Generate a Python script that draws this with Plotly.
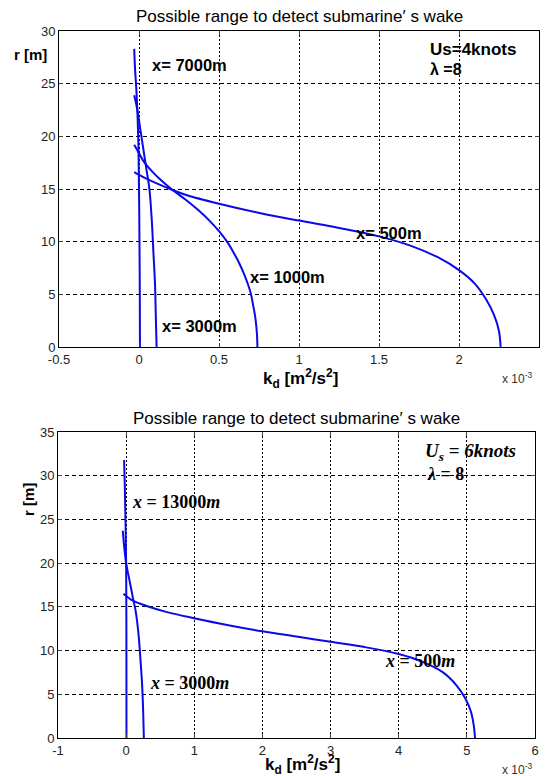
import plotly.graph_objects as go

W, H = 548, 776

# ---------------- data (kd in units of 1e-3 m^2/s^2, r in m) ----------------
# Upper panel: Us = 4 knots, lambda = 8
kd_top_500 = [2.26, 2.25, 2.22, 2.17, 2.10, 2.00, 1.87, 1.70, 1.50, 1.25, 1.00, 0.76, 0.50, 0.30, 0.21, 0.10, 0.03, -0.03]
r_top_500 = [0.0, 1.5, 3.0, 4.5, 6.0, 7.3, 8.5, 9.6, 10.5, 11.3, 12.0, 12.7, 13.6, 14.4, 14.9, 15.6, 16.1, 16.6]

kd_top_1000 = [0.74, 0.738, 0.733, 0.725, 0.713, 0.70, 0.68, 0.655, 0.625, 0.59, 0.55, 0.50, 0.44, 0.37, 0.29, 0.21, 0.14, 0.08, 0.03, 0.0, -0.03]
r_top_1000 = [0.0, 1.0, 2.0, 3.0, 4.0, 5.0, 6.0, 7.0, 8.0, 9.0, 10.0, 11.0, 12.0, 13.0, 14.0, 14.9, 15.8, 16.7, 17.6, 18.4, 19.2]

kd_top_3000 = [0.11, 0.105, 0.10, 0.09, 0.08, 0.065, 0.045, 0.03, 0.01, -0.01, -0.03]
r_top_3000 = [0.0, 3.0, 6.0, 9.0, 12.0, 15.0, 17.0, 18.5, 20.5, 22.5, 23.9]

kd_top_7000 = [0.006, 0.005, 0.003, 0.0, -0.005, -0.015, -0.025, -0.03]
r_top_7000 = [0.0, 5.0, 10.0, 15.0, 20.0, 24.0, 26.5, 28.3]

# Lower panel: Us = 6 knots, lambda = 8
kd_bot_500 = [5.12, 5.10, 5.06, 4.98, 4.85, 4.65, 4.35, 4.00, 3.50, 3.00, 2.50, 2.00, 1.50, 1.00, 0.60, 0.30, 0.10, -0.04]
r_bot_500 = [0.0, 1.5, 3.0, 4.5, 6.0, 7.5, 8.7, 9.6, 10.4, 11.0, 11.6, 12.2, 12.9, 13.7, 14.4, 15.1, 15.7, 16.5]

kd_bot_3000 = [0.26, 0.25, 0.235, 0.21, 0.18, 0.14, 0.10, 0.05, 0.0, -0.03, -0.05]
r_bot_3000 = [0.0, 3.0, 6.0, 9.0, 12.0, 14.5, 16.0, 18.0, 20.0, 22.0, 23.7]

kd_bot_13000 = [0.005, 0.004, 0.0, -0.01, -0.02, -0.03]
r_bot_13000 = [0.0, 10.0, 20.0, 25.0, 29.0, 31.8]

# tick labels
top_xticks = [-0.5, 0, 0.5, 1, 1.5, 2, 2.5]
top_xticklabels = ["-0.5", "0", "0.5", "1", "1.5", "2", "2.5"]
top_yticks = [0, 5, 10, 15, 20, 25, 30]
bot_xticks = [-1, 0, 1, 2, 3, 4, 5, 6]
bot_xticklabels = ["-1", "0", "1", "2", "3", "4", "5", "6"]
bot_yticks = [0, 5, 10, 15, 20, 25, 30, 35]

title_text = "Possible range to detect submarine\u2032 s wake"

# ---------------- figure ----------------
BLUE = "#0a0ae6"
fig = go.Figure()

def add_curve(kd, r, xa, ya):
    fig.add_trace(go.Scatter(x=kd, y=r, mode="lines", xaxis=xa, yaxis=ya,
                             line=dict(color=BLUE, width=2, shape="spline", smoothing=1.0),
                             showlegend=False, hoverinfo="skip"))

add_curve(kd_top_500, r_top_500, "x", "y")
add_curve(kd_top_1000, r_top_1000, "x", "y")
add_curve(kd_top_3000, r_top_3000, "x", "y")
add_curve(kd_top_7000, r_top_7000, "x", "y")
add_curve(kd_bot_500, r_bot_500, "x2", "y2")
add_curve(kd_bot_3000, r_bot_3000, "x2", "y2")
add_curve(kd_bot_13000, r_bot_13000, "x2", "y2")

def px(x):
    return x / W

def py(y):
    return 1 - y / H

tickfont = dict(family="Liberation Sans, Arial", size=13, color="#222222")
axis_common = dict(showline=True, linecolor="black", linewidth=1, mirror="ticks",
                   ticks="inside", ticklen=4, tickcolor="#444444",
                   showgrid=True, gridcolor="black", gridwidth=1,
                   zeroline=False, tickfont=tickfont, fixedrange=True, automargin=False)

fig.update_layout(
    template="none",
    width=W, height=H,
    margin=dict(l=0, r=0, t=0, b=0, pad=0),
    paper_bgcolor="white", plot_bgcolor="white",
    showlegend=False,
    xaxis=dict(domain=[px(59), px(539)], range=[-0.5, 2.5], anchor="y",
               tickvals=top_xticks, ticktext=top_xticklabels, griddash="2px,2px", **axis_common),
    yaxis=dict(domain=[py(347), py(31)], range=[0, 30], anchor="x",
               tickvals=top_yticks, griddash="4px,3px", **axis_common),
    xaxis2=dict(domain=[px(58), px(535)], range=[-1, 6], anchor="y2",
                tickvals=bot_xticks, ticktext=bot_xticklabels, griddash="2px,2px", **axis_common),
    yaxis2=dict(domain=[py(738), py(432)], range=[0, 35], anchor="x2",
                tickvals=bot_yticks, griddash="4px,3px", **axis_common),
)

ann = []

def text(x, y, s, size=14, family="Liberation Sans, Arial", xanchor="center", color="black", angle=0):
    ann.append(dict(x=px(x), y=py(y), xref="paper", yref="paper", text=s, showarrow=False,
                    xanchor=xanchor, yanchor="middle", textangle=angle,
                    font=dict(family=family, size=size, color=color)))

# titles
text(299, 16, title_text, size=17)
text(296, 418, title_text, size=17)

# axis labels
text(30, 55, "<b>r [m]</b>", size=15)
text(28, 500, "<b>r [m]</b>", size=15, angle=-90)
text(300, 378, "<b>k<sub>d</sub> [m<sup>2</sup>/s<sup>2</sup>]</b>", size=17)
text(302, 764, "<b>k<sub>d</sub> [m<sup>2</sup>/s<sup>2</sup>]</b>", size=17)
text(517, 378, "x 10<sup>-3</sup>", size=12, color="#333333")
text(517, 769, "x 10<sup>-3</sup>", size=12, color="#333333")

# upper-panel labels
text(150, 65, "<b>x= 7000m</b>", size=16.5, xanchor="left")
text(160, 326, "<b>x= 3000m</b>", size=16.5, xanchor="left")
text(248, 277, "<b>x= 1000m</b>", size=16.5, xanchor="left")
text(354, 233, "<b>x= 500m</b>", size=16.5, xanchor="left")
text(428, 50, "<b>Us=4knots</b>", size=17, xanchor="left")
text(428, 69, "<b>\u03bb =8</b>", size=16, xanchor="left")

# lower-panel labels (equation style)
serif = "Liberation Serif, Times New Roman"
text(130, 502, "<b><i>x</i> = 13000<i>m</i></b>", size=18, family=serif, xanchor="left")
text(148, 683, "<b><i>x</i> = 3000<i>m</i></b>", size=18, family=serif, xanchor="left")
text(383, 661, "<b><i>x</i> = 500<i>m</i></b>", size=18, family=serif, xanchor="left")
text(423, 452, "<b><i>U<sub>s</sub></i> = <i>6knots</i></b>", size=19, family=serif, xanchor="left")
text(425, 474, "<b><i>\u03bb</i> = 8</b>", size=18, family=serif, xanchor="left")

fig.update_layout(annotations=ann)

fig.write_html("out.html")
